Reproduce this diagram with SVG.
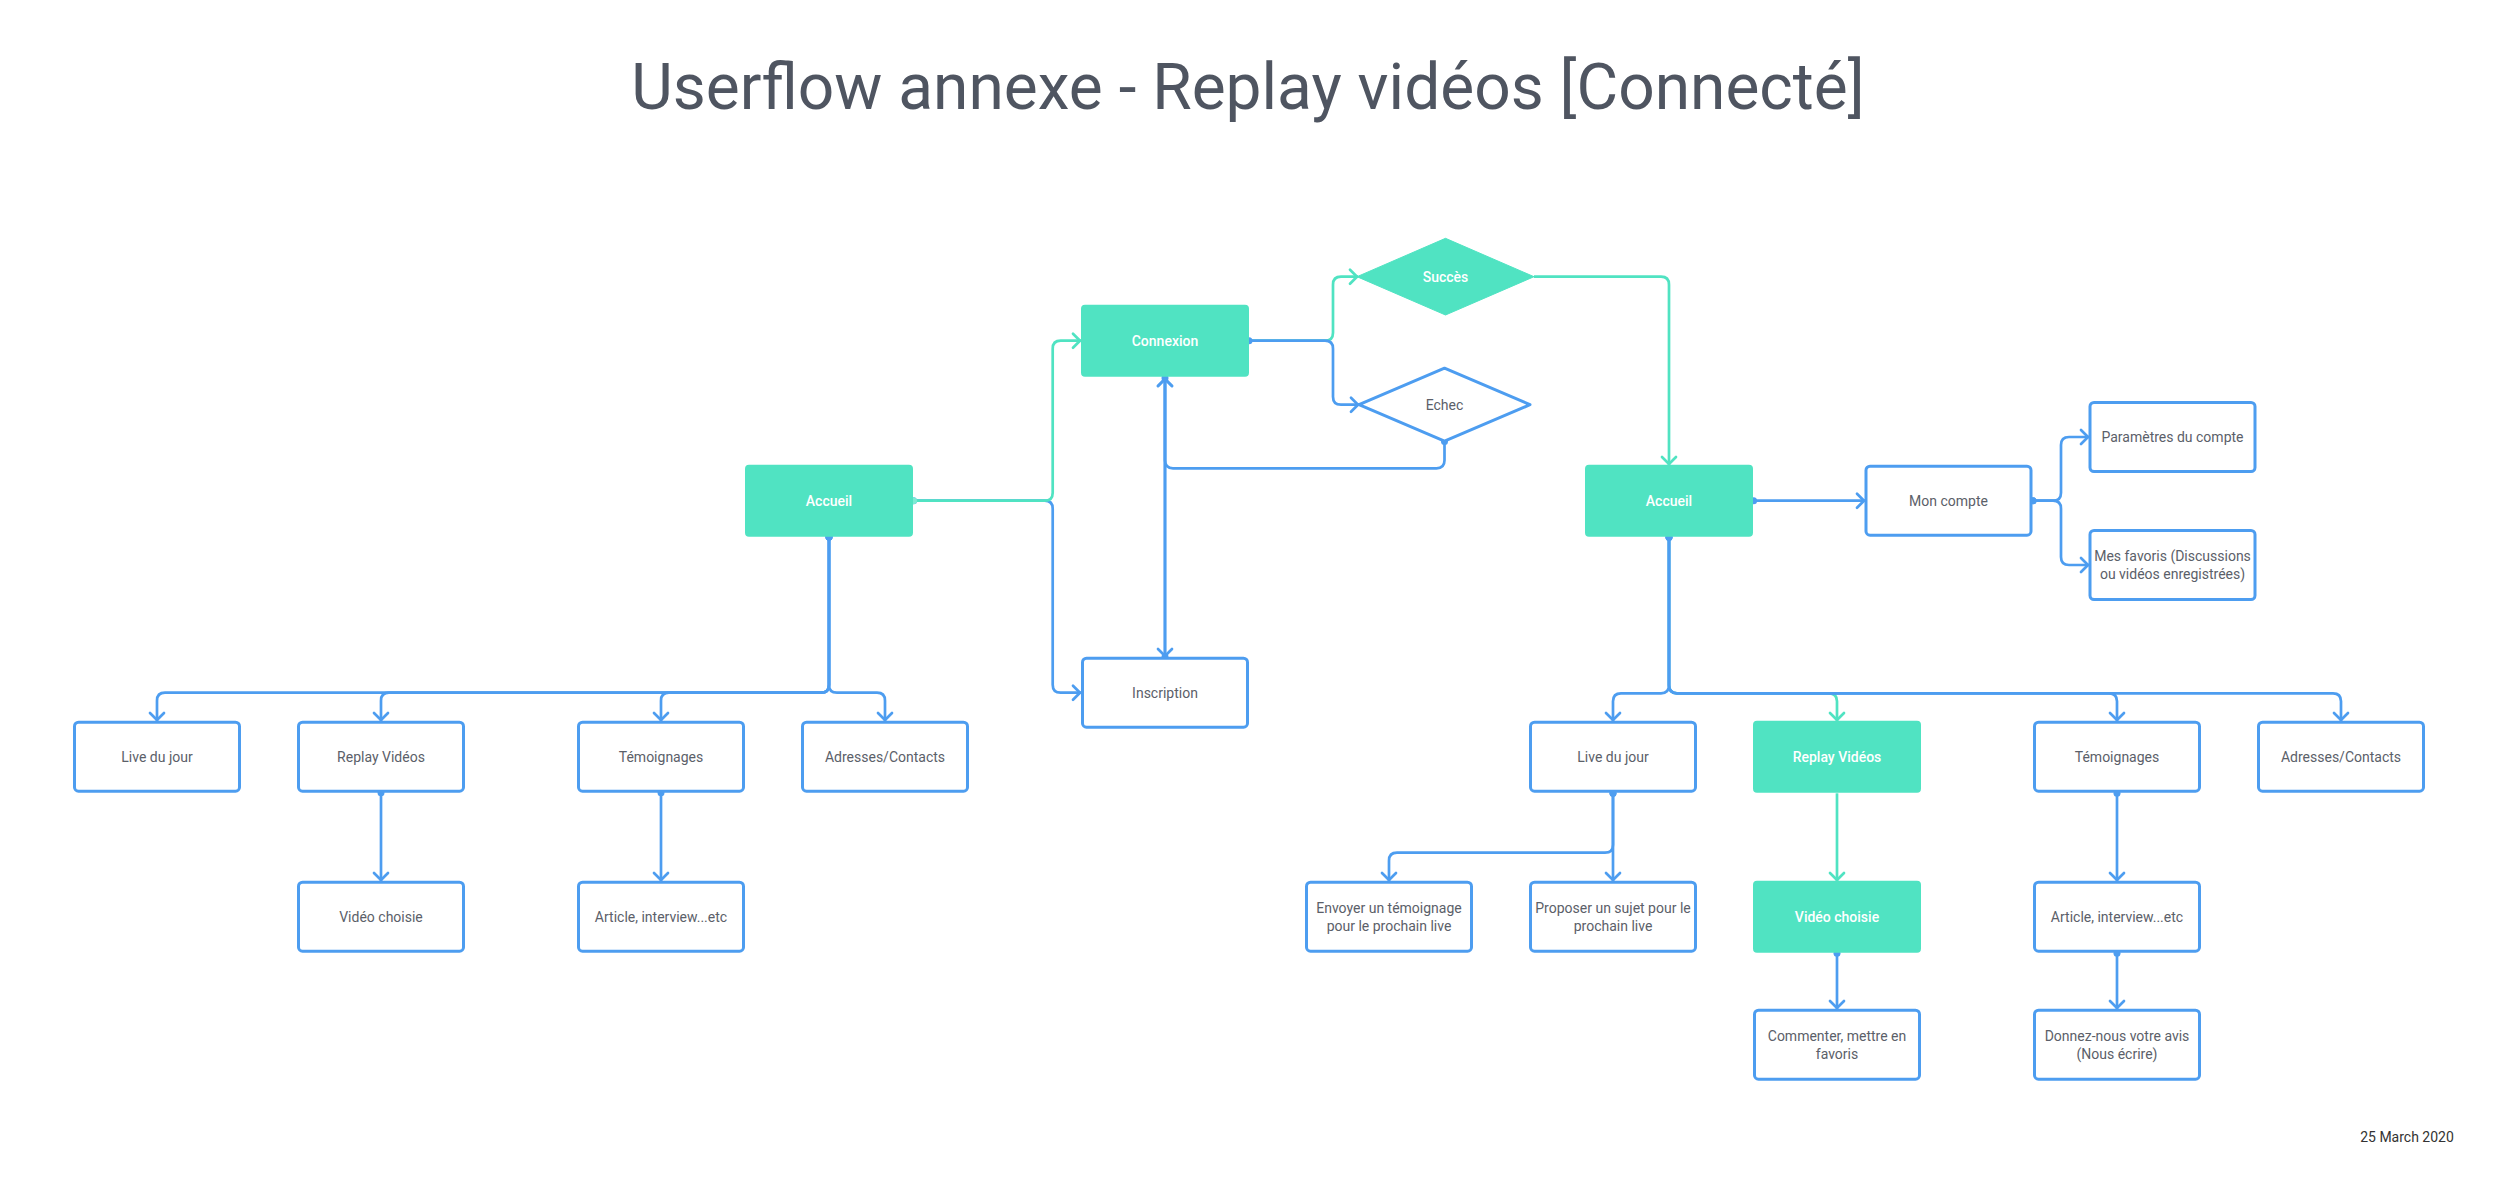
<svg xmlns="http://www.w3.org/2000/svg" width="2498" height="1202" viewBox="0 0 2498 1202">
<style>
text{font-family:Roboto,"Liberation Sans",sans-serif;}
.t{font-size:14px;fill:#5b6069;text-anchor:middle;}
.tw{font-size:14px;fill:#ffffff;text-anchor:middle;font-weight:500;}
.box{fill:#ffffff;stroke:#4D9DF0;stroke-width:3;}
.gbox{fill:#50E3C2;}
.cb{fill:none;stroke:#4D9DF0;stroke-width:2.7;stroke-linejoin:round;marker-end:url(#ab);}
.cg{fill:none;stroke:#50E3C2;stroke-width:2.7;stroke-linejoin:round;marker-end:url(#ag);}
.ds{marker-start:url(#db);}
.dg{marker-start:url(#dgm);}
</style>
<defs>
<marker id="ab" viewBox="-10 -10 20 20" markerWidth="20" markerHeight="20" markerUnits="userSpaceOnUse" refX="0" refY="0" orient="auto"><path d="M-8,-7 L-1,0 L-8,7" fill="none" stroke="#4D9DF0" stroke-width="2.7" stroke-linecap="round" stroke-linejoin="round"/></marker>
<marker id="ag" viewBox="-10 -10 20 20" markerWidth="20" markerHeight="20" markerUnits="userSpaceOnUse" refX="0" refY="0" orient="auto"><path d="M-8,-7 L-1,0 L-8,7" fill="none" stroke="#50E3C2" stroke-width="2.7" stroke-linecap="round" stroke-linejoin="round"/></marker>
<marker id="db" viewBox="-5 -5 10 10" markerWidth="10" markerHeight="10" markerUnits="userSpaceOnUse" refX="0" refY="0"><circle r="3.5" fill="#4D9DF0"/></marker>
<marker id="dgm" viewBox="-5 -5 10 10" markerWidth="10" markerHeight="10" markerUnits="userSpaceOnUse" refX="0" refY="0"><circle r="3.5" fill="#7EEBD3"/></marker>
</defs>
<rect width="2498" height="1202" fill="#ffffff"/>
<text x="1248" y="109" style="font-size:64px;fill:#4f5561;text-anchor:middle;">Userflow annexe - Replay vidéos [Connecté]</text>
<text x="2407" y="1142" style="font-size:14px;fill:#333333;text-anchor:middle;">25 March 2020</text>

<g id="connectors">
<!-- left Accueil -->
<path class="cb ds" d="M913.5,500.7 H1044.7 Q1052.7,500.7 1052.7,508.7 V684.7 Q1052.7,692.7 1060.7,692.7 H1081"/>
<path class="cg dg" d="M913.5,500.7 H1044.7 Q1052.7,500.7 1052.7,492.7 V348.7 Q1052.7,340.7 1060.7,340.7 H1081"/>
<path class="cg" d="M1249,340.7 H1325 Q1333,340.7 1333,332.7 V284.7 Q1333,276.7 1341,276.7 H1358"/>
<path class="cb ds" d="M1249,340.7 H1325 Q1333,340.7 1333,348.7 V396.7 Q1333,404.7 1341,404.7 H1359"/>
<path class="cb ds" d="M1444.5,441.5 V460.3 Q1444.5,468.3 1436.5,468.3 H1173 Q1165,468.3 1165,460.3 V378"/>
<path class="cb ds" d="M1165,378 V657"/>
<path class="cb ds" d="M1165,657 V378"/>
<path class="cg" d="M1534,276.7 H1661 Q1669,276.7 1669,284.7 V465"/>
<path class="cb ds" d="M829,537 V684.7 Q829,692.7 821,692.7 H165 Q157,692.7 157,700.7 V721"/>
<path class="cb ds" d="M829,537 V684.7 Q829,692.7 821,692.7 H389 Q381,692.7 381,700.7 V721"/>
<path class="cb ds" d="M829,537 V684.7 Q829,692.7 821,692.7 H669 Q661,692.7 661,700.7 V721"/>
<path class="cb ds" d="M829,537 V684.7 Q829,692.7 837,692.7 H877 Q885,692.7 885,700.7 V721"/>
<path class="cb ds" d="M381,792.7 V881"/>
<path class="cb ds" d="M661,792.7 V881"/>
<!-- right Accueil -->
<path class="cb ds" d="M1753.6,500.7 H1865"/>
<path class="cb ds" d="M2033,500.7 H2053 Q2061,500.7 2061,492.7 V445 Q2061,437 2069,437 H2089"/>
<path class="cb ds" d="M2033,500.7 H2053 Q2061,500.7 2061,508.7 V557 Q2061,565 2069,565 H2089"/>
<path class="cg" d="M1669,537.3 V685.3 Q1669,693.3 1677,693.3 H1829 Q1837,693.3 1837,701.3 V721"/>
<path class="cb ds" d="M1669,537.3 V685.3 Q1669,693.3 1661,693.3 H1621 Q1613,693.3 1613,701.3 V721"/>
<path class="cb ds" d="M1669,537.3 V685.3 Q1669,693.3 1677,693.3 H2109 Q2117,693.3 2117,701.3 V721"/>
<path class="cb ds" d="M1669,537.3 V685.3 Q1669,693.3 1677,693.3 H2333 Q2341,693.3 2341,701.3 V721"/>
<path class="cb ds" d="M1613,793.3 V844.7 Q1613,852.7 1605,852.7 H1397 Q1389,852.7 1389,860.7 V881"/>
<path class="cb ds" d="M1613,793.3 V881"/>
<path class="cg" d="M1837,793.3 V881"/>
<path class="cb ds" d="M1837,953.3 V1009"/>
<path class="cb ds" d="M2117,793.3 V881"/>
<path class="cb ds" d="M2117,953.3 V1009"/>
</g>

<g id="accueil-l"><rect class="gbox" x="745" y="464.7" width="168" height="72" rx="4"/><text class="tw" x="829" y="505.7">Accueil</text></g>
<g id="connexion"><rect class="gbox" x="1081" y="304.7" width="168" height="72" rx="4"/><text class="tw" x="1165" y="345.7">Connexion</text></g>
<g id="inscription"><rect class="box" x="1082.5" y="658.2" width="165" height="69" rx="4"/><text class="t" x="1165" y="697.7">Inscription</text></g>
<g id="succes"><polygon points="1357,276.7 1445.5,238.3 1534,276.7 1445.5,315" fill="#50E3C2" stroke="#50E3C2" stroke-width="1" stroke-linejoin="round"/><text class="tw" x="1445.5" y="281.7">Succès</text></g>
<g id="echec"><polygon points="1359,404.7 1444.5,368.2 1530,404.7 1444.5,441.2" fill="#ffffff" stroke="#4D9DF0" stroke-width="3" stroke-linejoin="round"/><text class="t" x="1444.5" y="409.7">Echec</text></g>

<g id="live-l"><rect class="box" x="74.5" y="722.2" width="165" height="69" rx="4"/><text class="t" x="157" y="761.7">Live du jour</text></g>
<g id="replay-l"><rect class="box" x="298.5" y="722.2" width="165" height="69" rx="4"/><text class="t" x="381" y="761.7">Replay Vidéos</text></g>
<g id="temoignages-l"><rect class="box" x="578.5" y="722.2" width="165" height="69" rx="4"/><text class="t" x="661" y="761.7">Témoignages</text></g>
<g id="adresses-l"><rect class="box" x="802.5" y="722.2" width="165" height="69" rx="4"/><text class="t" x="885" y="761.7">Adresses/Contacts</text></g>
<g id="video-l"><rect class="box" x="298.5" y="882.2" width="165" height="69" rx="4"/><text class="t" x="381" y="921.7">Vidéo choisie</text></g>
<g id="article-l"><rect class="box" x="578.5" y="882.2" width="165" height="69" rx="4"/><text class="t" x="661" y="921.7">Article, interview...etc</text></g>

<g id="accueil-r"><rect class="gbox" x="1585" y="464.7" width="168" height="72" rx="4"/><text class="tw" x="1669" y="505.7">Accueil</text></g>
<g id="mon-compte"><rect class="box" x="1866" y="466.2" width="165" height="69" rx="4"/><text class="t" x="1948.5" y="505.7">Mon compte</text></g>
<g id="parametres"><rect class="box" x="2090" y="402.5" width="165" height="69" rx="4"/><text class="t" x="2172.5" y="442">Paramètres du compte</text></g>
<g id="favoris"><rect class="box" x="2090" y="530.5" width="165" height="69" rx="4"/><text class="t" x="2172.5" y="561">Mes favoris (Discussions</text><text class="t" x="2172.5" y="579">ou vidéos enregistrées)</text></g>

<g id="live-r"><rect class="box" x="1530.5" y="722.2" width="165" height="69" rx="4"/><text class="t" x="1613" y="761.7">Live du jour</text></g>
<g id="replay-r"><rect class="gbox" x="1753" y="720.7" width="168" height="72" rx="4"/><text class="tw" x="1837" y="761.7">Replay Vidéos</text></g>
<g id="temoignages-r"><rect class="box" x="2034.5" y="722.2" width="165" height="69" rx="4"/><text class="t" x="2117" y="761.7">Témoignages</text></g>
<g id="adresses-r"><rect class="box" x="2258.5" y="722.2" width="165" height="69" rx="4"/><text class="t" x="2341" y="761.7">Adresses/Contacts</text></g>
<g id="envoyer"><rect class="box" x="1306.5" y="882.2" width="165" height="69" rx="4"/><text class="t" x="1389" y="912.7">Envoyer un témoignage</text><text class="t" x="1389" y="930.7">pour le prochain live</text></g>
<g id="proposer"><rect class="box" x="1530.5" y="882.2" width="165" height="69" rx="4"/><text class="t" x="1613" y="912.7">Proposer un sujet pour le</text><text class="t" x="1613" y="930.7">prochain live</text></g>
<g id="video-r"><rect class="gbox" x="1753" y="880.7" width="168" height="72" rx="4"/><text class="tw" x="1837" y="921.7">Vidéo choisie</text></g>
<g id="article-r"><rect class="box" x="2034.5" y="882.2" width="165" height="69" rx="4"/><text class="t" x="2117" y="921.7">Article, interview...etc</text></g>
<g id="commenter"><rect class="box" x="1754.5" y="1010.2" width="165" height="69" rx="4"/><text class="t" x="1837" y="1040.7">Commenter, mettre en</text><text class="t" x="1837" y="1058.7">favoris</text></g>
<g id="donnez"><rect class="box" x="2034.5" y="1010.2" width="165" height="69" rx="4"/><text class="t" x="2117" y="1040.7">Donnez-nous votre avis</text><text class="t" x="2117" y="1058.7">(Nous écrire)</text></g>
</svg>
